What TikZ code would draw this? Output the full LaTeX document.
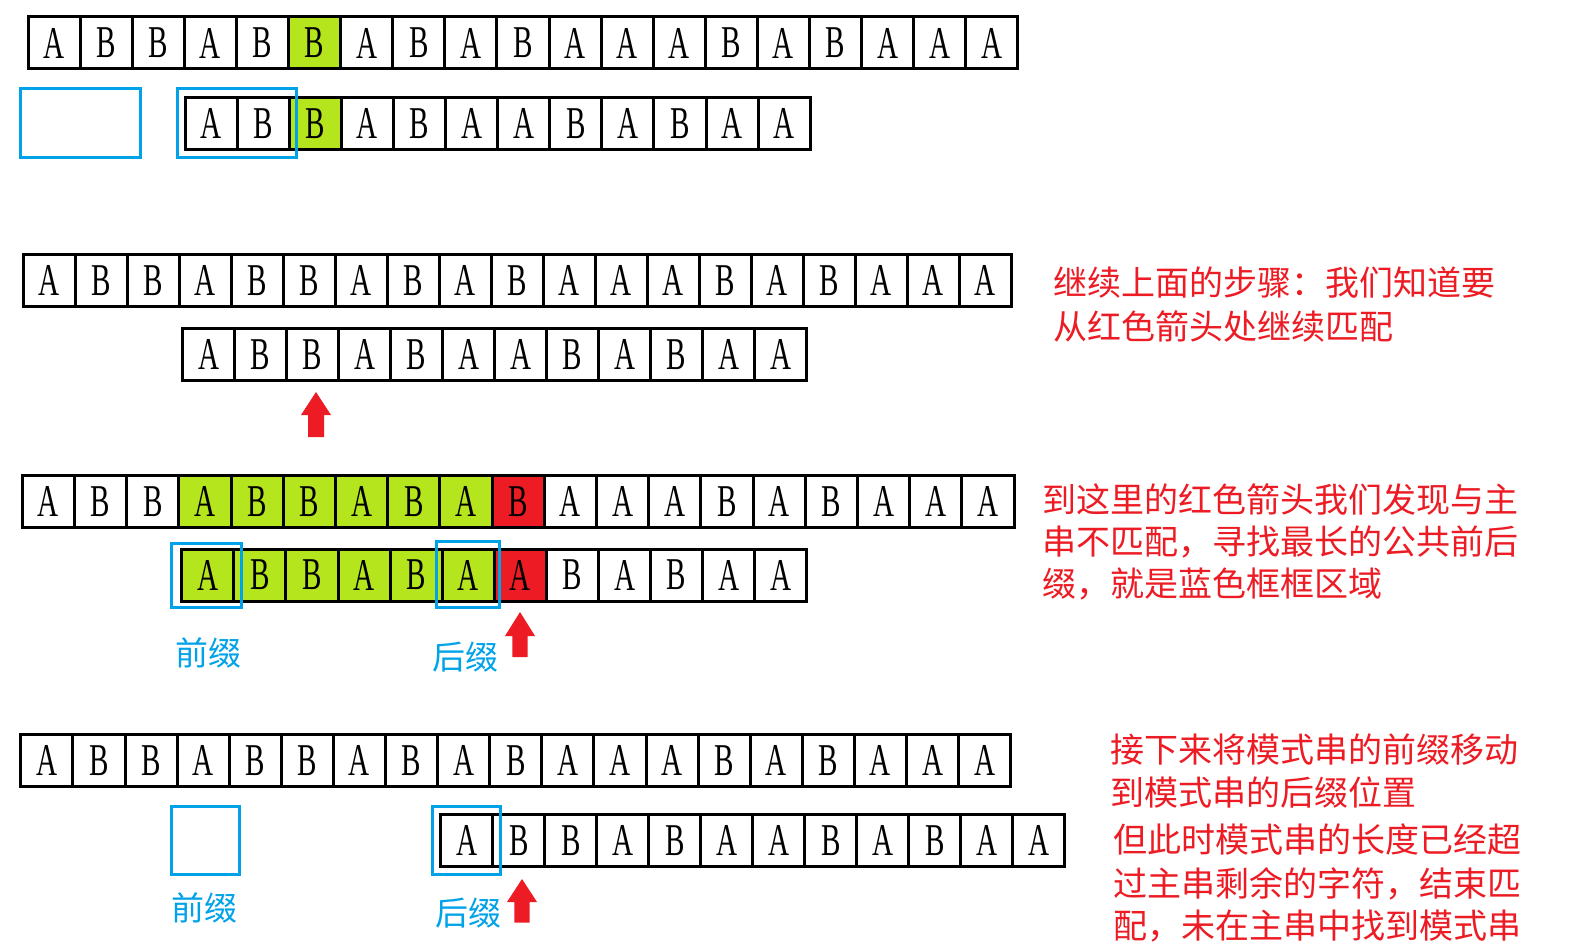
\documentclass[tikz,border=0pt]{standalone}
\usepackage{fontspec}
\newfontfamily\cellfont{Liberation Serif}[FakeStretch=0.64]
\newfontfamily\cjk{Noto Sans CJK SC}
\definecolor{pgreen}{HTML}{B5E61D}
\definecolor{pred}{HTML}{ED1C24}
\definecolor{pblue}{HTML}{00A2E8}
\tikzset{
  cell/.style={draw=black, line width=3pt, minimum height=52pt, inner sep=0pt, outer sep=0pt,
    font=\cellfont\fontsize{45.5}{45.5}\selectfont},
  bluebox/.style={draw=pblue, line width=3pt, inner sep=0pt, outer sep=0pt},
  note/.style={text=pred, font=\cjk\fontsize{34}{34}\selectfont, anchor=west, inner sep=0pt},
  tag/.style={text=pblue, font=\cjk\fontsize{33}{33}\selectfont, inner sep=0pt},
  uparrow/.style={fill=pred, draw=none},
}
\newcommand{\strrow}[5]{%
  \foreach \c/\f [count=\i] in {#5} {
    \node[cell, minimum width=#4pt, fill=\f] (#1-\i) at ({#2+(\i-0.5)*#4}, #3) {\c};
  }}
\begin{document}
\begin{tikzpicture}[x=1pt,y=-1pt]
\useasboundingbox (0,0) rectangle (1593,952);
\fill[white] (0,0) rectangle (1593,952);

% ---------- row 1 ----------
\strrow{ma}{28}{43}{52.1}{A/white,B/white,B/white,A/white,B/white,B/pgreen,A/white,B/white,A/white,B/white,A/white,A/white,A/white,B/white,A/white,B/white,A/white,A/white,A/white}
\strrow{pa}{185}{123.6}{52.1}{A/white,B/white,B/pgreen,A/white,B/white,A/white,A/white,B/white,A/white,B/white,A/white,A/white}
\node[bluebox, minimum width=120pt, minimum height=69pt] (b1a) at (80,123.5) {};
\node[bluebox, minimum width=119pt, minimum height=69pt] (b1b) at (236.5,123.5) {};

% ---------- row 2 ----------
\strrow{mb}{23.3}{280.3}{52.0}{A/white,B/white,B/white,A/white,B/white,B/white,A/white,B/white,A/white,B/white,A/white,A/white,A/white,B/white,A/white,B/white,A/white,A/white,A/white}
\strrow{pb}{182.7}{354.5}{52.0}{A/white,B/white,B/white,A/white,B/white,A/white,A/white,B/white,A/white,B/white,A/white,A/white}
\fill[uparrow] (316,392) -- (331,415) -- (324,415) -- (324,437) -- (308,437) -- (308,415) -- (301,415) -- cycle;
\node[note] (n1a) at (1053.5,283) {继续上面的步骤：我们知道要};
\node[note] (n1b) at (1053.5,326.5) {从红色箭头处继续匹配};

% ---------- row 3 ----------
\strrow{mc}{22.3}{501.3}{52.2}{A/white,B/white,B/white,A/pgreen,B/pgreen,B/pgreen,A/pgreen,B/pgreen,A/pgreen,B/pred,A/white,A/white,A/white,B/white,A/white,B/white,A/white,A/white,A/white}
\strrow{pc}{181.7}{575}{52.1}{A/pgreen,B/pgreen,B/pgreen,A/pgreen,B/pgreen,A/pgreen,A/pred,B/white,A/white,B/white,A/white,A/white}
\node[bluebox, minimum width=70pt, minimum height=64.4pt] (b3a) at (206.7,575.5) {};
\node[bluebox, minimum width=63pt, minimum height=65.6pt] (b3b) at (467.5,574.5) {};
\fill[uparrow] (520,612) -- (535,636) -- (527.7,636) -- (527.7,657) -- (512.3,657) -- (512.3,636) -- (505,636) -- cycle;
\node[tag] (l3a) at (208,653) {前缀};
\node[tag] (l3b) at (465,657) {后缀};
\node[note] (n2a) at (1042,499) {到这里的红色箭头我们发现与主};
\node[note] (n2b) at (1042,542) {串不匹配，寻找最长的公共前后};
\node[note] (n2c) at (1042,584) {缀，就是蓝色框框区域};

% ---------- row 4 ----------
\strrow{md}{20.8}{760.7}{52.1}{A/white,B/white,B/white,A/white,B/white,B/white,A/white,B/white,A/white,B/white,A/white,A/white,A/white,B/white,A/white,B/white,A/white,A/white,A/white}
\strrow{pd}{440.8}{840.7}{52.0}{A/white,B/white,B/white,A/white,B/white,A/white,A/white,B/white,A/white,B/white,A/white,A/white}
\node[bluebox, minimum width=68.2pt, minimum height=67.6pt] (b4a) at (205.7,840.5) {};
\node[bluebox, minimum width=68.2pt, minimum height=67.6pt] (b4b) at (466.6,840.5) {};
\fill[uparrow] (522,879) -- (537,902) -- (529.7,902) -- (529.7,922.5) -- (514.3,922.5) -- (514.3,902) -- (507,902) -- cycle;
\node[tag] (l4a) at (204,907.5) {前缀};
\node[tag] (l4b) at (468,913.3) {后缀};
\node[note] (n3a) at (1110,750) {接下来将模式串的前缀移动};
\node[note] (n3b) at (1110,792.5) {到模式串的后缀位置};
\node[note] (n3c) at (1113.5,840) {但此时模式串的长度已经超};
\node[note] (n3d) at (1113.5,883.5) {过主串剩余的字符，结束匹};
\node[note] (n3e) at (1113.5,926) {配，未在主串中找到模式串};
\end{tikzpicture}
\end{document}
